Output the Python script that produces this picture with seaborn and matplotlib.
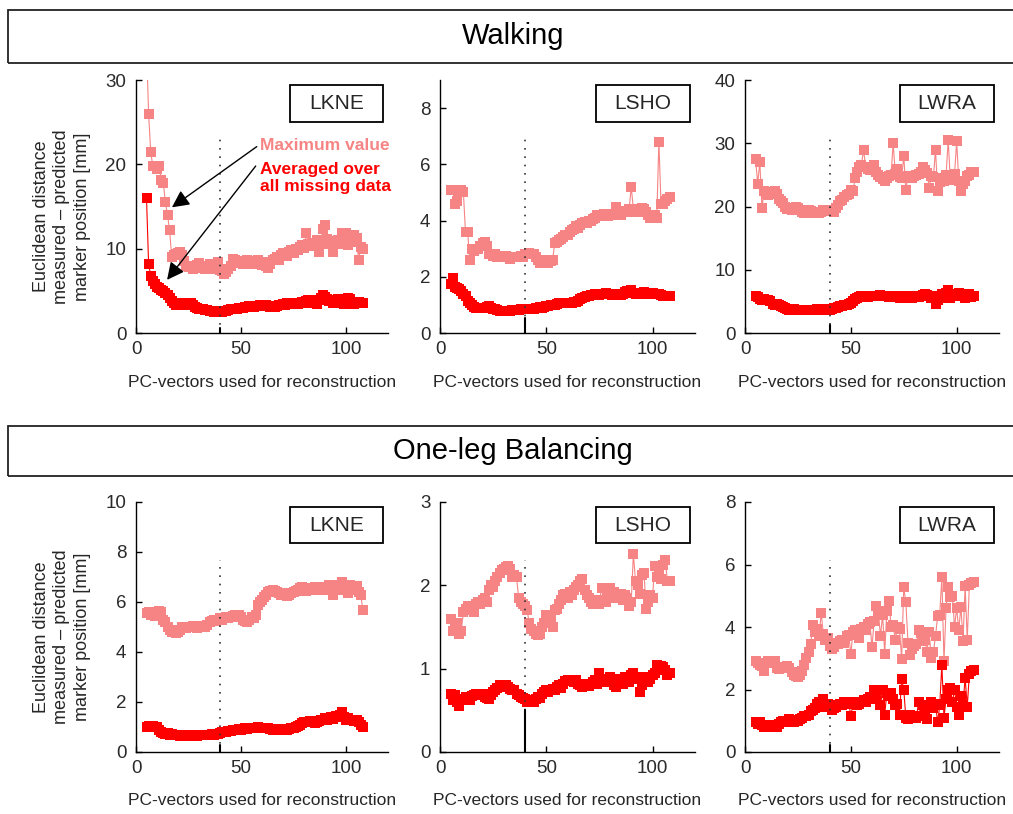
import numpy as np
import matplotlib
matplotlib.use("Agg")
import matplotlib.pyplot as plt
from matplotlib.patches import Rectangle
import seaborn as sns

# --- data: one value per number of PC-vectors (5..108) ---
pcs = list(range(5, 109))

walk_lkne_max = [34, 26, 21.5, 19.8, 19.8, 19.5, 19.8, 18.2, 17.8, 15.5,
                 14.0, 12.2, 9.0, 9.2, 9.4, 9.5, 9.6, 9.2, 8.5, 8.0,
                 7.8, 7.9, 7.6, 7.8, 8.1, 8.3, 7.9, 7.7, 7.6, 7.8,
                 8.2, 8.0, 7.6, 7.9, 8.4, 7.5, 7.3, 7.0, 7.2, 7.6,
                 8.0, 8.8, 8.6, 8.3, 8.5, 8.4, 8.2, 8.4, 8.7, 8.5,
                 8.2, 8.3, 8.5, 8.6, 8.3, 8.1, 8.4, 8.0, 7.7, 8.2,
                 8.6, 8.8, 9.0, 8.7, 9.2, 9.5, 9.3, 9.1, 9.6, 9.8,
                 9.5, 10.0, 9.8, 10.2, 10.4, 10.1, 11.8, 10.5, 10.3, 10.7,
                 10.4, 11.0, 9.6, 10.8, 12.3, 12.8, 11.2, 10.6, 10.9, 9.6,
                 10.5, 11.0, 10.6, 11.9, 11.5, 11.8, 10.4, 11.2, 10.8, 11.6,
                 11.3, 8.6, 10.2, 10.0]
walk_lkne_avg = [16, 8.2, 6.8, 6.2, 5.8, 5.4, 5.3, 5.1, 5.0, 4.8,
                 4.5, 4.2, 3.8, 3.5, 3.3, 3.4, 3.6, 3.6, 3.4, 3.3,
                 3.5, 3.6, 3.3, 3.1, 3.0, 2.9, 2.8, 2.8, 2.7, 2.7,
                 2.6, 2.6, 2.5, 2.5, 2.6, 2.5, 2.5, 2.6, 2.6, 2.7,
                 2.8, 2.8, 2.9, 2.9, 3.0, 3.0, 3.0, 3.1, 3.1, 3.2,
                 3.2, 3.1, 3.2, 3.2, 3.3, 3.3, 3.2, 3.3, 3.2, 3.1,
                 3.2, 3.1, 3.2, 3.3, 3.3, 3.4, 3.3, 3.5, 3.4, 3.5,
                 3.6, 3.5, 3.4, 3.6, 3.7, 3.5, 3.8, 3.9, 3.6, 3.9,
                 3.7, 3.4, 3.9, 4.2, 4.5, 4.3, 4.0, 3.8, 3.9, 3.6,
                 3.9, 4.0, 3.7, 3.6, 3.4, 3.8, 4.1, 4.0, 3.6, 3.4,
                 3.5, 3.7, 3.6, 3.6]

walk_lsho_max = [5.1, 5.1, 4.6, 4.7, 5.0, 5.1, 5.0, 3.6, 3.6, 2.6,
                 3.0, 2.9, 3.0, 3.0, 3.1, 3.2, 3.25, 3.1, 2.8, 2.8,
                 2.75, 2.8, 2.7, 2.75, 2.7, 2.7, 2.75, 2.7, 2.65, 2.7,
                 2.7, 2.7, 2.7, 2.75, 2.7, 2.8, 2.8, 2.85, 2.8, 2.8,
                 2.7, 2.6, 2.5, 2.55, 2.6, 2.55, 2.5, 2.55, 2.6, 3.2,
                 3.25, 3.3, 3.35, 3.4, 3.5, 3.5, 3.6, 3.65, 3.7, 3.8,
                 3.75, 3.85, 3.9, 3.95, 3.9, 4.0, 4.0, 4.05, 4.1, 4.2,
                 4.15, 4.2, 4.25, 4.2, 4.15, 4.2, 4.25, 4.2, 4.5, 4.3,
                 4.2, 4.3, 4.35, 4.3, 4.4, 5.2, 4.4, 4.3, 4.35, 4.4,
                 4.45, 4.4, 4.3, 4.2, 4.1, 4.15, 4.2, 4.1, 6.8, 4.6,
                 4.6, 4.7, 4.75, 4.85]
walk_lsho_avg = [1.75, 1.95, 1.65, 1.6, 1.55, 1.5, 1.4, 1.3, 1.15, 1.05,
                 1.0, 0.92, 0.9, 0.9, 0.88, 0.9, 0.9, 0.92, 0.95, 0.9,
                 0.85, 0.85, 0.82, 0.8, 0.78, 0.78, 0.8, 0.78, 0.8, 0.82,
                 0.82, 0.83, 0.82, 0.84, 0.85, 0.86, 0.85, 0.84, 0.86, 0.85,
                 0.88, 0.9, 0.92, 0.9, 0.93, 0.95, 0.97, 0.98, 1.0, 1.0,
                 1.02, 1.05, 1.05, 1.06, 1.08, 1.05, 1.06, 1.08, 1.1, 1.12,
                 1.15, 1.2, 1.25, 1.28, 1.3, 1.32, 1.35, 1.35, 1.37, 1.38,
                 1.36, 1.38, 1.4, 1.42, 1.4, 1.38, 1.36, 1.38, 1.4, 1.37,
                 1.35, 1.38, 1.45, 1.5, 1.48, 1.52, 1.42, 1.4, 1.38, 1.42,
                 1.44, 1.45, 1.42, 1.4, 1.43, 1.42, 1.4, 1.38, 1.4, 1.35,
                 1.33, 1.32, 1.3, 1.32]

walk_lwra_max = [27.5, 23.6, 27.0, 19.8, 22.5, 22.0, 21.8, 21.9, 22.3, 22.4,
                 22.0, 21.2, 20.8, 20.5, 20.0, 19.6, 19.8, 19.4, 19.5, 20.0,
                 19.7, 19.5, 19.2, 18.9, 19.0, 19.4, 19.3, 19.0, 19.2, 19.1,
                 19.0, 19.2, 19.4, 19.5, 19.3, 19.5, 19.4, 19.2, 19.8, 20.3,
                 20.8, 21.0, 21.5, 21.8, 22.0, 22.6, 22.4, 24.5, 25.5, 26.2,
                 26.5, 29.0, 26.3, 26.0, 25.8, 26.2, 26.5, 25.5, 25.0, 24.6,
                 24.3, 24.0, 24.5, 24.8, 25.0, 30.0, 25.2, 26.0, 24.7, 24.5,
                 28.0, 22.6, 24.8, 24.6, 24.5, 24.8, 25.0, 25.2, 25.5, 26.2,
                 25.8, 25.3, 23.0, 24.8, 24.6, 29.0, 22.5, 23.8, 24.5, 24.0,
                 25.0, 30.5, 24.2, 24.8, 25.2, 30.3, 24.0, 22.5, 23.5, 24.0,
                 24.8, 25.0, 25.4, 25.5]
walk_lwra_avg = [5.9, 5.7, 5.4, 5.2, 5.3, 5.2, 5.2, 5.0, 4.6, 4.5,
                 4.6, 4.5, 4.3, 4.1, 4.0, 3.8, 3.7, 3.7, 3.8, 3.7,
                 3.6, 3.6, 3.7, 3.6, 3.6, 3.7, 3.6, 3.7, 3.7, 3.8,
                 3.7, 3.8, 3.8, 3.7, 3.6, 3.6, 3.8, 3.9, 4.0, 4.1,
                 4.2, 4.3, 4.4, 4.5, 4.6, 4.7, 5.0, 5.4, 5.6, 5.7,
                 5.8, 5.9, 5.8, 5.7, 5.8, 5.8, 5.9, 5.8, 5.9, 6.0,
                 5.9, 5.8, 5.8, 5.7, 5.8, 5.9, 5.8, 5.7, 5.6, 5.7,
                 5.8, 5.6, 5.5, 5.7, 5.6, 5.8, 5.9, 5.7, 5.9, 6.0,
                 6.1, 6.0, 5.8, 5.6, 5.9, 4.6, 5.2, 5.8, 6.2, 5.6,
                 6.4, 6.8, 5.5, 6.0, 6.2, 5.8, 6.3, 6.0, 6.2, 5.6,
                 5.9, 6.1, 5.7, 5.8]

bal_lkne_max = [5.55, 5.6, 5.5, 5.5, 5.45, 5.6, 5.65, 5.6, 5.3, 5.2,
                5.0, 4.9, 4.8, 4.8, 4.75, 4.8, 4.9, 5.0, 5.0, 4.95,
                5.0, 5.0, 5.05, 5.0, 4.95, 5.0, 5.0, 5.05, 5.0, 5.1,
                5.2, 5.25, 5.3, 5.25, 5.3, 5.35, 5.3, 5.35, 5.4, 5.35,
                5.4, 5.45, 5.5, 5.45, 5.5, 5.4, 5.3, 5.25, 5.2, 5.3,
                5.4, 5.35, 5.5, 5.9, 6.0, 6.1, 6.2, 6.3, 6.4, 6.45,
                6.5, 6.45, 6.4, 6.35, 6.3, 6.35, 6.3, 6.25, 6.3, 6.35,
                6.4, 6.45, 6.5, 6.55, 6.6, 6.55, 6.45, 6.5, 6.55, 6.5,
                6.6, 6.55, 6.5, 6.6, 6.55, 6.5, 6.6, 6.7, 6.55, 6.3,
                6.6, 6.7, 6.5, 6.8, 6.6, 6.5, 6.35, 6.7, 6.6, 6.5,
                6.65, 6.4, 6.3, 5.7]
bal_lkne_avg = [1.0, 1.05, 1.0, 1.05, 1.0, 1.02, 0.9, 0.8, 0.75, 0.72,
                0.75, 0.7, 0.72, 0.7, 0.68, 0.7, 0.65, 0.66, 0.7, 0.68,
                0.65, 0.67, 0.7, 0.66, 0.65, 0.68, 0.7, 0.67, 0.68, 0.7,
                0.7, 0.72, 0.7, 0.72, 0.73, 0.75, 0.8, 0.82, 0.8, 0.85,
                0.83, 0.87, 0.9, 0.88, 0.92, 0.9, 0.93, 0.95, 0.92, 0.95,
                0.97, 0.95, 0.98, 1.0, 0.97, 0.95, 0.97, 0.98, 0.95, 0.93,
                0.9, 0.92, 0.88, 0.87, 0.88, 0.9, 0.92, 0.9, 0.93, 0.95,
                0.97, 1.0, 1.05, 1.1, 1.15, 1.2, 1.22, 1.2, 1.25, 1.2,
                1.18, 1.22, 1.25, 1.3, 1.28, 1.35, 1.3, 1.35, 1.4, 1.32,
                1.45, 1.4, 1.5, 1.6, 1.42, 1.3, 1.35, 1.3, 1.28, 1.25,
                1.3, 1.2, 1.1, 1.0]

bal_lsho_max = [1.6, 1.45, 1.5, 1.55, 1.42, 1.45, 1.68, 1.72, 1.75, 1.7,
                1.75, 1.68, 1.78, 1.8, 1.78, 1.82, 1.85, 1.8, 1.95, 2.0,
                1.98, 2.05, 2.1, 2.15, 2.18, 2.2, 2.22, 2.23, 2.2, 2.1,
                2.12, 2.1, 1.85, 1.8, 1.78, 1.75, 1.7, 1.55, 1.48, 1.45,
                1.42, 1.4, 1.42, 1.5, 1.55, 1.65, 1.6, 1.62, 1.5, 1.7,
                1.72, 1.78, 1.82, 1.88, 1.9, 1.85, 1.92, 1.88, 1.95, 1.98,
                2.0, 2.05, 2.08, 1.95, 1.88, 1.85, 1.8, 1.78, 1.8, 1.82,
                1.78, 1.97, 1.82, 1.8, 1.85, 1.97, 1.85, 1.92, 1.88, 1.85,
                1.9, 1.82, 1.88, 1.85, 1.75, 1.8, 2.38, 2.05, 2.0, 1.9,
                2.12, 2.15, 1.72, 1.8, 1.88, 1.85, 2.23, 2.1, 2.12, 2.08,
                2.25, 2.3, 2.05, 2.05]
bal_lsho_avg = [0.7, 0.62, 0.68, 0.6, 0.55, 0.62, 0.64, 0.66, 0.65, 0.63,
                0.67, 0.68, 0.7, 0.7, 0.68, 0.7, 0.66, 0.65, 0.64, 0.68,
                0.72, 0.75, 0.77, 0.8, 0.78, 0.8, 0.8, 0.78, 0.76, 0.74,
                0.75, 0.7, 0.68, 0.66, 0.65, 0.64, 0.6, 0.6, 0.62, 0.6,
                0.64, 0.66, 0.65, 0.7, 0.72, 0.75, 0.72, 0.74, 0.76, 0.75,
                0.78, 0.8, 0.77, 0.82, 0.85, 0.86, 0.87, 0.85, 0.84, 0.86,
                0.82, 0.8, 0.78, 0.8, 0.82, 0.79, 0.82, 0.84, 0.86, 0.82,
                0.95, 0.85, 0.84, 0.88, 0.86, 0.9, 0.88, 0.8, 0.78, 0.85,
                0.88, 0.82, 0.9, 0.86, 0.84, 0.92, 0.95, 0.88, 0.9, 0.72,
                0.8, 0.86, 0.9, 0.84, 0.88, 0.92, 0.95, 1.05, 1.0, 1.03,
                1.02, 0.98, 0.93, 0.95]

bal_lwra_max = [2.9, 2.85, 2.8, 2.75, 2.6, 2.85, 2.9, 2.85, 2.88, 2.9,
                2.7, 2.65, 2.7, 2.68, 2.72, 2.75, 2.7, 2.55, 2.45, 2.42,
                2.4, 2.45, 2.6, 2.8, 3.0, 3.2, 3.45, 4.05, 3.85, 3.95,
                3.7, 4.45, 3.78, 3.6, 3.65, 3.4, 3.3, 3.35, 3.5, 3.45,
                3.55, 3.6, 3.5, 3.7, 3.75, 3.14, 3.85, 3.9, 3.8, 3.65,
                3.95, 4.0, 3.9, 4.1, 4.15, 3.35, 4.2, 4.68, 4.5, 3.7,
                4.4, 3.15, 4.5, 4.84, 4.0, 4.05, 3.6, 4.0, 3.95, 2.98,
                5.27, 4.79, 3.5, 3.1, 3.3, 3.4, 3.45, 3.9, 3.8, 3.55,
                3.6, 3.2, 3.85, 3.0, 3.2, 3.7, 4.34, 4.4, 5.59, 2.9,
                4.6, 5.27, 4.95, 5.0, 4.0, 4.6, 3.9, 4.65, 3.56, 5.32,
                3.6, 5.35, 5.4, 5.45]
bal_lwra_avg = [0.95, 0.9, 0.95, 0.85, 0.8, 0.85, 0.82, 0.8, 0.85, 0.82,
                0.8, 0.9, 0.95, 1.0, 0.95, 1.0, 1.05, 1.0, 0.95, 1.02,
                0.98, 1.05, 1.1, 1.15, 1.15, 1.2, 1.3, 1.35, 1.4, 1.55,
                1.6, 1.45, 1.7, 1.5, 1.55, 1.45, 1.35, 1.4, 1.45, 1.5,
                1.55, 1.5, 1.6, 1.55, 1.6, 1.15, 1.55, 1.6, 1.5, 1.55,
                1.6, 1.65, 1.6, 1.7, 1.75, 1.7, 1.99, 1.7, 2.0, 1.5,
                2.0, 1.2, 1.9, 1.8, 1.9, 1.7, 1.5, 1.55, 1.2, 2.34,
                2.0, 1.1, 1.05, 1.2, 1.1, 1.15, 1.1, 1.6, 1.15, 1.5,
                1.2, 1.05, 1.45, 1.6, 1.4, 1.55, 0.96, 1.5, 2.8, 1.1,
                1.7, 2.0, 2.05, 1.6, 2.0, 1.45, 1.17, 1.8, 1.5, 2.38,
                1.45, 2.5, 2.6, 2.62]

markers = ["LKNE", "LSHO", "LWRA"]
row_titles = ["Walking", "One-leg Balancing"]
max_series = [[walk_lkne_max, walk_lsho_max, walk_lwra_max],
              [bal_lkne_max, bal_lsho_max, bal_lwra_max]]
avg_series = [[walk_lkne_avg, walk_lsho_avg, walk_lwra_avg],
              [bal_lkne_avg, bal_lsho_avg, bal_lwra_avg]]
y_tops = [[30, 9, 40], [10, 3, 8]]
y_steps = [[10, 2, 10], [2, 1, 2]]
chosen_pcs = 40

# --- style ---
sns.set_style("ticks")
plt.rcParams["font.family"] = ["Liberation Sans", "DejaVu Sans"]

PINK = "#f78484"
RED = "#ff0000"

fig = plt.figure(figsize=(10.13, 8.14), dpi=100)
W, H = 1013, 814

col_left = [136, 440, 745]
col_width = [252, 255, 254]
row_top = [80, 502]
row_bottom = [333, 752]
stub = [[0.02, 0.06, 0.03], [0.03, 0.17, 0.03]]

# row header boxes
for (top, bot), title in zip([(10, 63), (426, 476)], row_titles):
    fig.patches.append(Rectangle((8 / W, 1 - bot / H), 1.2, (bot - top) / H,
                                 transform=fig.transFigure, fill=False,
                                 edgecolor="#222222", linewidth=1.3))
    fig.text(513 / W, 1 - (top + bot) / 2 / H, title, ha="center", va="center",
             fontsize=21, color="black")

for r in range(2):
    for c in range(3):
        ax = fig.add_axes([col_left[c] / W, 1 - row_bottom[r] / H,
                           col_width[c] / W, (row_bottom[r] - row_top[r]) / H])
        sns.lineplot(x=pcs, y=max_series[r][c], ax=ax, color=PINK, marker="s",
                     markersize=6.8, markeredgecolor=PINK, markeredgewidth=0,
                     linewidth=0.8, estimator=None)
        sns.lineplot(x=pcs, y=avg_series[r][c], ax=ax, color=RED, marker="s",
                     markersize=6.8, markeredgecolor=RED, markeredgewidth=0,
                     linewidth=0.8, estimator=None)

        ax.axvline(chosen_pcs, ymin=0, ymax=0.77, color="#333333",
                   linestyle=(0, (1, 4)), linewidth=1.2)
        ax.axvline(chosen_pcs, ymin=0, ymax=stub[r][c], color="black",
                   linewidth=1.5)

        ax.set_xlim(0, 120)
        ax.set_ylim(0, y_tops[r][c])
        ax.set_xticks([0, 50, 100])
        ax.set_yticks(np.arange(0, y_tops[r][c] + 0.01, y_steps[r][c]))
        sns.despine(ax=ax)
        for sp in ["left", "bottom"]:
            ax.spines[sp].set_linewidth(1.0)
            ax.spines[sp].set_color("black")
        ax.tick_params(direction="in", length=4, width=1, labelsize=13.5,
                       colors="black", labelcolor="#2a2a2a")
        ax.tick_params(axis="y", pad=7)
        ax.tick_params(axis="x", pad=6)

        ax.set_xlabel("PC-vectors used for reconstruction", fontsize=12.5)
        ax.xaxis.set_label_coords(0.5, -0.165)
        if c == 0:
            ax.set_ylabel("Euclidean distance\nmeasured \u2013 predicted\nmarker position [mm]",
                          fontsize=13, linespacing=1.25)
            ax.yaxis.set_label_coords(-0.18, 0.46)
        else:
            ax.set_ylabel("")

        # marker name box
        ax.add_patch(Rectangle((0.61, 0.835), 0.37, 0.145, transform=ax.transAxes,
                               fill=False, edgecolor="black", linewidth=1.3,
                               clip_on=False))
        ax.text(0.795, 0.907, markers[c], transform=ax.transAxes, ha="center",
                va="center", fontsize=15)

        if r == 0 and c == 0:
            ax.text(59, 22.2, "Maximum value", color=PINK, fontsize=12.5,
                    fontweight="bold", va="center", ha="left")
            ax.text(59, 18.4, "Averaged over\nall missing data", color=RED,
                    fontsize=12.5, fontweight="bold", va="center", ha="left",
                    linespacing=1.15)
            ax.annotate("", xy=(17.1, 14.9), xytext=(57.5, 22.1),
                        arrowprops=dict(arrowstyle="-|>", color="black", lw=1,
                                        mutation_scale=26, shrinkA=0, shrinkB=0))
            ax.annotate("", xy=(14.8, 6.3), xytext=(57.0, 19.8),
                        arrowprops=dict(arrowstyle="-|>", color="black", lw=1,
                                        mutation_scale=26, shrinkA=0, shrinkB=0))

fig.savefig("out.png", dpi=100)
